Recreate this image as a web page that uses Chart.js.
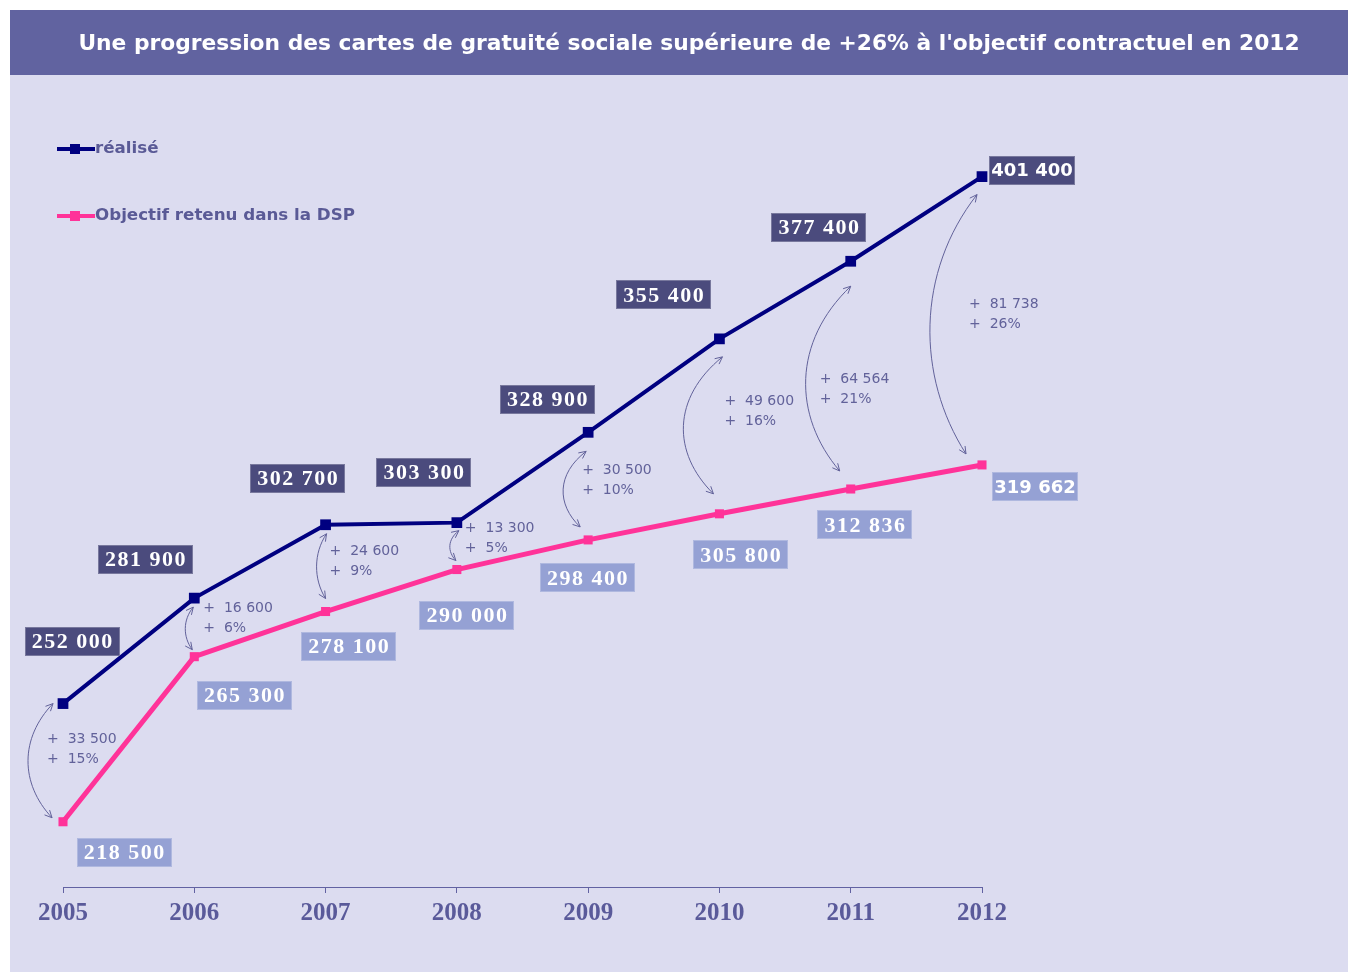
<!DOCTYPE html>
<html>
<head>
<meta charset="utf-8">
<script src="https://cdn.jsdelivr.net/npm/chart.js@4/dist/chart.umd.min.js"></script>
<style>
html,body{margin:0;padding:0;background:#ffffff;}
canvas{display:block;}
</style>
</head>
<body>
<canvas id="c" width="1348" height="972"></canvas>
<script>
// ---- data ----
const years = ['2005','2006','2007','2008','2009','2010','2011','2012'];
const realise = [252000, 281900, 302700, 303300, 328900, 355400, 377400, 401400];
const objectif = [218500, 265300, 278100, 290000, 298400, 305800, 312836, 319662];
const realiseLabels = ['252 000','281 900','302 700','303 300','328 900','355 400','377 400','401 400'];
const objectifLabels = ['218 500','265 300','278 100','290 000','298 400','305 800','312 836','319 662'];
const diffLabels = ['+ 33 500','+ 16 600','+ 24 600','+ 13 300','+ 30 500','+ 49 600','+ 64 564','+ 81 738'];
const pctLabels = ['+ 15%','+ 6%','+ 9%','+ 5%','+ 10%','+ 16%','+ 21%','+ 26%'];
const titleText = "Une progression des cartes de gratuité sociale supérieure de +26% à l'objectif contractuel en 2012";
const legendNames = ['réalisé', 'Objectif retenu dans la DSP'];

// ---- label placement (pixel offsets from the point) ----
const realiseLabelOffset = [[9,-62],[-49,-39],[-28,-46],[-33,-50],[-41,-33],[-56,-44],[-32,-34],[50,-6]];
const objectifLabelOffset = [[61,31],[50,39],[23,35],[10,46],[-1,38],[21,41],[14,36],[53,22]];
// arrow layout: [topDx, topDy (from realise pt), botDx, botDy (from objectif pt), bulgeX (offset from x), textDx, textDy (from realise pt)]
const arrowLayout = [
  [-10, 0, -11, -4, -35, -16, 36],
  [-1, 9, -2, -7, -9, 9, 10],
  [1, 9, 0, -13, -9, 4, 27],
  [2, 8, -1, -9, -7, 8, 6],
  [-2, 19, -8, -13, -25, -6, 38],
  [3, 18, -6, -20, -36, 5, 62],
  [0, 25, -11, -18, -45, -31, 118],
  [-5, 18, -16, -11, -52, -13, 128]
];

const C = {
  bg: '#dcdcf0', title: '#6163a0', navy: '#000080', pink: '#ff3399',
  darkBox: '#4b4b7d', lightBox: '#95a1d4', ann: '#62629a', axis: '#6262a2', tick: '#5a5a9a', legend: '#5a5a96'
};

function drawArrowHead(ctx, x, y, ang) {
  const L = 8, a = 0.45;
  ctx.beginPath();
  ctx.moveTo(x - L*Math.cos(ang - a), y - L*Math.sin(ang - a));
  ctx.lineTo(x, y);
  ctx.lineTo(x - L*Math.cos(ang + a), y - L*Math.sin(ang + a));
  ctx.stroke();
}

function box(ctx, cx, cy, text, fill, serif) {
  ctx.save();
  if (serif) {
    ctx.font = 'bold 22px "Liberation Serif"';
    ctx.letterSpacing = '1.5px';
  } else {
    ctx.font = 'bold 18px "DejaVu Sans"';
    ctx.letterSpacing = '0px';
  }
  const w = serif ? 95 : 86, h = 29;
  ctx.fillStyle = fill;
  ctx.fillRect(Math.round(cx - w/2), Math.round(cy - h/2), w, h);
  ctx.strokeStyle = 'rgba(255,255,255,0.25)';
  ctx.lineWidth = 1;
  ctx.strokeRect(Math.round(cx - w/2) + 0.5, Math.round(cy - h/2) + 0.5, w - 1, h - 1);
  ctx.fillStyle = '#ffffff';
  ctx.textAlign = 'center';
  ctx.textBaseline = 'middle';
  ctx.fillText(text, cx + (serif ? 0.75 : 0), cy + 1);
  ctx.restore();
}

const decor = {
  id: 'decor',
  beforeDraw(chart) {
    const ctx = chart.ctx;
    ctx.save();
    ctx.fillStyle = '#ffffff';
    ctx.fillRect(0, 0, 1348, 972);
    ctx.fillStyle = C.bg;
    ctx.fillRect(10, 10, 1338, 962);
    ctx.fillStyle = C.title;
    ctx.fillRect(10, 10, 1338, 65);
    let size = 22;
    ctx.font = 'bold ' + size + 'px "DejaVu Sans"';
    const w = ctx.measureText(titleText).width;
    size = size * 1222 / w;
    ctx.font = 'bold ' + size.toFixed(2) + 'px "DejaVu Sans"';
    ctx.fillStyle = '#ffffff';
    ctx.textAlign = 'center';
    ctx.textBaseline = 'middle';
    ctx.fillText(titleText, 689, 44);
    ctx.restore();
  },
  afterDraw(chart) {
    const ctx = chart.ctx;
    const xs = chart.scales.x, ys = chart.scales.y;
    ctx.save();
    // legend
    const legColors = [C.navy, C.pink];
    const legY = [149, 216];
    for (let i = 0; i < 2; i++) {
      ctx.strokeStyle = legColors[i];
      ctx.lineWidth = 4;
      ctx.beginPath(); ctx.moveTo(57, legY[i]); ctx.lineTo(95, legY[i]); ctx.stroke();
      ctx.fillStyle = legColors[i];
      ctx.fillRect(70, legY[i] - 5, 10, 10);
      ctx.font = 'bold 16.7px "DejaVu Sans"';
      ctx.fillStyle = C.legend;
      ctx.textAlign = 'left';
      ctx.textBaseline = 'middle';
      ctx.fillText(legendNames[i], 95, legY[i]);
    }
    // arrows & diff texts
    for (let i = 0; i < years.length; i++) {
      const x = xs.getPixelForValue(i);
      const yr = ys.getPixelForValue(realise[i]);
      const yo = ys.getPixelForValue(objectif[i]);
      const a = arrowLayout[i];
      const x1 = x + a[0], y1 = yr + a[1];
      const x2 = x + a[2], y2 = yo + a[3];
      const bx = x + a[4];
      const cx = (bx - 0.25 * (x1 + x2) / 2) / 0.75;
      const c1y = y1 + (y2 - y1) * 0.3, c2y = y1 + (y2 - y1) * 0.7;
      ctx.strokeStyle = C.ann;
      ctx.lineWidth = 1;
      ctx.beginPath();
      ctx.moveTo(x1, y1);
      ctx.bezierCurveTo(cx, c1y, cx, c2y, x2, y2);
      ctx.stroke();
      drawArrowHead(ctx, x1, y1, Math.atan2(y1 - c1y, x1 - cx));
      drawArrowHead(ctx, x2, y2, Math.atan2(y2 - c2y, x2 - cx));
      ctx.font = '14px "DejaVu Sans"';
      ctx.fillStyle = C.ann;
      ctx.textAlign = 'left';
      ctx.textBaseline = 'middle';
      const tx = x + a[5], ty = yr + a[6];
      ctx.fillText(diffLabels[i].replace('+ ', '+  '), tx, ty);
      ctx.fillText(pctLabels[i].replace('+ ', '+  '), tx, ty + 20);
    }
    // value boxes
    for (let i = 0; i < years.length; i++) {
      const x = xs.getPixelForValue(i);
      const yr = ys.getPixelForValue(realise[i]);
      const yo = ys.getPixelForValue(objectif[i]);
      const last = i === years.length - 1;
      box(ctx, x + realiseLabelOffset[i][0], yr + realiseLabelOffset[i][1], realiseLabels[i], C.darkBox, !last);
      box(ctx, x + objectifLabelOffset[i][0], yo + objectifLabelOffset[i][1], objectifLabels[i], C.lightBox, !last);
    }
    ctx.restore();
  }
};

new Chart(document.getElementById('c'), {
  type: 'line',
  data: {
    labels: years,
    datasets: [
      {
        label: legendNames[0], data: realise,
        borderColor: C.navy, backgroundColor: C.navy, borderWidth: 4,
        pointStyle: 'rect', pointRadius: 7.6, pointHoverRadius: 7.6, pointBorderWidth: 0,
        tension: 0, clip: false
      },
      {
        label: legendNames[1], data: objectif,
        borderColor: C.pink, backgroundColor: C.pink, borderWidth: 5,
        pointStyle: 'rect', pointRadius: 6.4, pointHoverRadius: 6.4, pointBorderWidth: 0,
        tension: 0, clip: false
      }
    ]
  },
  options: {
    responsive: false,
    animation: false,
    devicePixelRatio: 1,
    layout: { padding: { top: 111, left: 63, right: 366, bottom: 37 } },
    plugins: { legend: { display: false }, title: { display: false }, tooltip: { enabled: false } },
    scales: {
      x: {
        offset: false,
        grid: { display: true, drawOnChartArea: false, drawTicks: true, tickLength: 6, color: C.axis, lineWidth: 1 },
        border: { display: true, color: C.axis, width: 1 },
        ticks: { color: C.tick, padding: 6, font: { family: 'Liberation Serif', weight: 'bold', size: 25 }, maxRotation: 0, autoSkip: false }
      },
      y: { display: false, min: 200000, max: 420000 }
    }
  },
  plugins: [decor]
});
</script>
</body>
</html>
